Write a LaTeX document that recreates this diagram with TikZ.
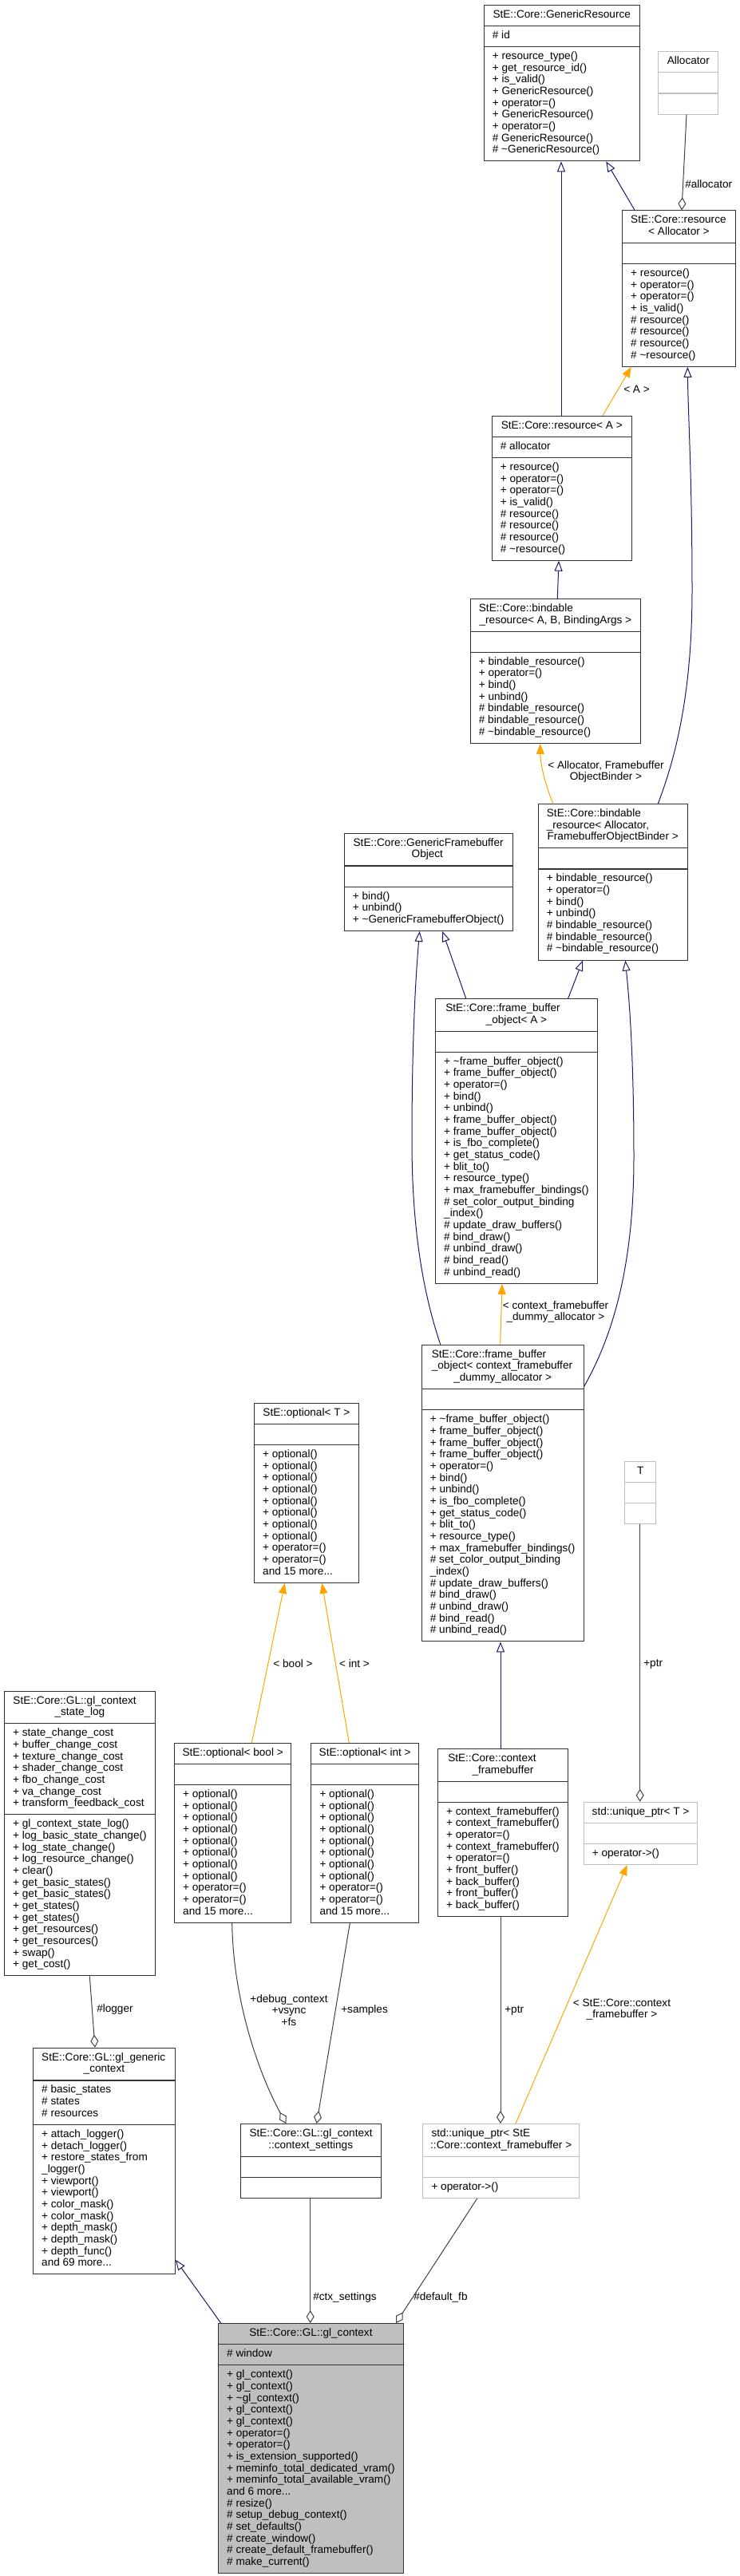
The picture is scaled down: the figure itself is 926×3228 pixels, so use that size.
\documentclass[tikz,border=0pt]{standalone}
\usepackage{fontspec}
\setmainfont{Liberation Sans}
\usepackage{array}
\usetikzlibrary{shapes.multipart,arrows.meta}
\definecolor{inhblue}{HTML}{191970}
\definecolor{tmplorange}{HTML}{FFA500}
\definecolor{usegrey}{HTML}{404040}
\definecolor{boxgrey}{HTML}{BFBFBF}
\newcommand{\umlfont}{\fontsize{10.2}{11}\selectfont}
\newcommand{\members}[1]{\begin{tabular}{@{}l@{}}#1\end{tabular}}
\newcommand{\nomembers}{\members{\strut}}
\newcommand{\centred}[2]{\makebox[#1]{#2}}
\begin{document}
\begin{tikzpicture}[
        x=0.75pt, y=-0.75pt,
        font=\umlfont
    ]
    \tikzset{
        classbox/.style = {rectangle split, rectangle split parts=3, rectangle split part align={center,left,left},
            draw=black!80, fill=white, line width=0.8pt, inner xsep=8pt, inner ysep=3.875pt, anchor=north west},
        greybox/.style = {classbox, draw=boxgrey},
        inherit/.style = {draw=inhblue, line width=0.75pt, -{Triangle[open, length=9.75pt, width=7.5pt]}},
        tmpl/.style = {draw=tmplorange, line width=0.75pt, -{Triangle[length=9.75pt, width=7.5pt]}},
        usage/.style = {draw=usegrey, line width=0.75pt, -{Diamond[open, length=12pt, width=7.5pt]}},
        lbl/.style = {inner sep=0pt},
    }
    \useasboundingbox (0,0) rectangle (926,3228);
    \node[classbox] (gr) at (605.7,5.7) {\members{\centred{130.25pt}{StE::Core::GenericResource}}
        \nodepart{two}\members{\# id}
        \nodepart{three}\members{+ resource\_type()\\+ get\_resource\_id()\\+ is\_valid()\\+ GenericResource()\\+ operator=()\\+ GenericResource()\\+ operator=()\\\# GenericResource()\\\# \textasciitilde GenericResource()}};
    \node[greybox] (alloc) at (824.3,64.3) {\members{\centred{40.25pt}{Allocator}}
        \nodepart{two}\nomembers
        \nodepart{three}\nomembers};
    \node[classbox] (resalloc) at (779,263.3) {\members{StE::Core::resource\\\centred{90.3pt}{< Allocator >}}
        \nodepart{two}\nomembers
        \nodepart{three}\members{+ resource()\\+ operator=()\\+ operator=()\\+ is\_valid()\\\# resource()\\\# resource()\\\# resource()\\\# \textasciitilde resource()}};
    \node[classbox] (resA) at (615.7,520.7) {\members{\centred{115.25pt}{StE::Core::resource< A >}}
        \nodepart{two}\members{\# allocator}
        \nodepart{three}\members{+ resource()\\+ operator=()\\+ operator=()\\+ is\_valid()\\\# resource()\\\# resource()\\\# resource()\\\# \textasciitilde resource()}};
    \node[classbox] (bindA) at (588.7,750) {\members{StE::Core::bindable\\\centred{144pt}{\_resource< A, B, BindingArgs >}}
        \nodepart{two}\nomembers
        \nodepart{three}\members{+ bindable\_resource()\\+ operator=()\\+ bind()\\+ unbind()\\\# bindable\_resource()\\\# bindable\_resource()\\\# \textasciitilde bindable\_resource()}};
    \node[classbox] (bindfbo) at (673.7,1007) {\members{StE::Core::bindable\\\_resource< Allocator,\\\centred{124.25pt}{FramebufferObjectBinder >}}
        \nodepart{two}\nomembers
        \nodepart{three}\members{+ bindable\_resource()\\+ operator=()\\+ bind()\\+ unbind()\\\# bindable\_resource()\\\# bindable\_resource()\\\# \textasciitilde bindable\_resource()}};
    \node[classbox] (gfbo) at (430.7,1043.7) {\members{StE::Core::GenericFramebuffer\\\centred{139pt}{Object}}
        \nodepart{two}\nomembers
        \nodepart{three}\members{+ bind()\\+ unbind()\\+ \textasciitilde GenericFramebufferObject()}};
    \node[classbox] (fboA) at (545,1251) {\members{StE::Core::frame\_buffer\\\centred{133pt}{\_object< A >}}
        \nodepart{two}\nomembers
        \nodepart{three}\members{+ \textasciitilde frame\_buffer\_object()\\+ frame\_buffer\_object()\\+ operator=()\\+ bind()\\+ unbind()\\+ frame\_buffer\_object()\\+ frame\_buffer\_object()\\+ is\_fbo\_complete()\\+ get\_status\_code()\\+ blit\_to()\\+ resource\_type()\\+ max\_framebuffer\_bindings()\\\# set\_color\_output\_binding\\\_index()\\\# update\_draw\_buffers()\\\# bind\_draw()\\\# unbind\_draw()\\\# bind\_read()\\\# unbind\_read()}};
    \node[classbox] (fboctx) at (527.7,1684.7) {\members{StE::Core::frame\_buffer\\\_object< context\_framebuffer\\\centred{133.25pt}{\_dummy\_allocator >}}
        \nodepart{two}\nomembers
        \nodepart{three}\members{+ \textasciitilde frame\_buffer\_object()\\+ frame\_buffer\_object()\\+ frame\_buffer\_object()\\+ frame\_buffer\_object()\\+ operator=()\\+ bind()\\+ unbind()\\+ is\_fbo\_complete()\\+ get\_status\_code()\\+ blit\_to()\\+ resource\_type()\\+ max\_framebuffer\_bindings()\\\# set\_color\_output\_binding\\\_index()\\\# update\_draw\_buffers()\\\# bind\_draw()\\\# unbind\_draw()\\\# bind\_read()\\\# unbind\_read()}};
    \node[greybox] (tbox) at (782.3,1831) {\members{\centred{13.25pt}{T}}
        \nodepart{two}\nomembers
        \nodepart{three}\nomembers};
    \node[classbox] (optT) at (318,1758) {\members{\centred{82pt}{StE::optional< T >}}
        \nodepart{two}\nomembers
        \nodepart{three}\members{+ optional()\\+ optional()\\+ optional()\\+ optional()\\+ optional()\\+ optional()\\+ optional()\\+ optional()\\+ operator=()\\+ operator=()\\and 15 more...}};
    \node[classbox] (slog) at (5,2118.5) {\members{StE::Core::GL::gl\_context\\\centred{125.2pt}{\_state\_log}}
        \nodepart{two}\members{+ state\_change\_cost\\+ buffer\_change\_cost\\+ texture\_change\_cost\\+ shader\_change\_cost\\+ fbo\_change\_cost\\+ va\_change\_cost\\+ transform\_feedback\_cost}
        \nodepart{three}\members{+ gl\_context\_state\_log()\\+ log\_basic\_state\_change()\\+ log\_state\_change()\\+ log\_resource\_change()\\+ clear()\\+ get\_basic\_states()\\+ get\_basic\_states()\\+ get\_states()\\+ get\_states()\\+ get\_resources()\\+ get\_resources()\\+ swap()\\+ get\_cost()}};
    \node[classbox] (optB) at (218,2184) {\members{\centred{93.7pt}{StE::optional< bool >}}
        \nodepart{two}\nomembers
        \nodepart{three}\members{+ optional()\\+ optional()\\+ optional()\\+ optional()\\+ optional()\\+ optional()\\+ optional()\\+ optional()\\+ operator=()\\+ operator=()\\and 15 more...}};
    \node[classbox] (optI) at (389.3,2184) {\members{\centred{85pt}{StE::optional< int >}}
        \nodepart{two}\nomembers
        \nodepart{three}\members{+ optional()\\+ optional()\\+ optional()\\+ optional()\\+ optional()\\+ optional()\\+ optional()\\+ optional()\\+ operator=()\\+ operator=()\\and 15 more...}};
    \node[classbox] (ctxfb) at (548,2191) {\members{StE::Core::context\\\centred{103pt}{\_framebuffer}}
        \nodepart{two}\nomembers
        \nodepart{three}\members{+ context\_framebuffer()\\+ context\_framebuffer()\\+ operator=()\\+ context\_framebuffer()\\+ operator=()\\+ front\_buffer()\\+ back\_buffer()\\+ front\_buffer()\\+ back\_buffer()}};
    \node[greybox] (uptrT) at (730.7,2257.7) {\members{\centred{91pt}{std::unique\_ptr< T >}}
        \nodepart{two}\nomembers
        \nodepart{three}\members{+ operator->()}};
    \node[classbox] (ggc) at (41,2565.7) {\members{StE::Core::GL::gl\_generic\\\centred{117.3pt}{\_context}}
        \nodepart{two}\members{\# basic\_states\\\# states\\\# resources}
        \nodepart{three}\members{+ attach\_logger()\\+ detach\_logger()\\+ restore\_states\_from\\\_logger()\\+ viewport()\\+ viewport()\\+ color\_mask()\\+ color\_mask()\\+ depth\_mask()\\+ depth\_mask()\\+ depth\_func()\\and 69 more...}};
    \node[classbox] (ctxset) at (301.3,2661) {\members{StE::Core::GL::gl\_context\\\centred{115pt}{::context\_settings}}
        \nodepart{two}\nomembers
        \nodepart{three}\nomembers};
    \node[greybox] (uptrS) at (529.3,2661) {\members{std::unique\_ptr< StE\\\centred{130.8pt}{::Core::context\_framebuffer >}}
        \nodepart{two}\nomembers
        \nodepart{three}\members{+ operator->()}};
    \node[classbox, fill=boxgrey] (glc) at (273,2911) {\members{\centred{157.25pt}{StE::Core::GL::gl\_context}}
        \nodepart{two}\members{\# window}
        \nodepart{three}\members{+ gl\_context()\\+ gl\_context()\\+ \textasciitilde gl\_context()\\+ gl\_context()\\+ gl\_context()\\+ operator=()\\+ operator=()\\+ is\_extension\_supported()\\+ meminfo\_total\_dedicated\_vram()\\+ meminfo\_total\_available\_vram()\\and 6 more...\\\# resize()\\\# setup\_debug\_context()\\\# set\_defaults()\\\# create\_window()\\\# create\_default\_framebuffer()\\\# make\_current()}};
    \draw[inherit] (resalloc.north -| 795,0) -- (gr.south -| 759.3,0);
    \draw[inherit] (resA.north -| 703,0) -- (gr.south -| 703,0);
    \draw[usage] (alloc.south -| 860,0) -- (resalloc.north -| 854,0);
    \draw[tmpl] (resA.north -| 755,0) -- (resalloc.south -| 790.7,0);
    \draw[inherit] (bindA.north -| 698.3,0) -- (resA.south -| 700,0);
    \draw[tmpl] (bindfbo.north -| 692.7,0) .. controls (684,985) and (677,960) .. (bindA.south -| 676.7,0);
    \draw[inherit] (bindfbo.north -| 824.3,0) .. controls (846,950) and (867,870) .. (867,740) .. controls (867,600) and (862,520) .. (resalloc.south -| 861.3,0);
    \draw[inherit] (fboA.north -| 583.7,0) -- (gfbo.south -| 554.3,0);
    \draw[inherit] (fboA.north -| 711.7,0) -- (bindfbo.south -| 730,0);
    \draw[inherit] (fboctx.north -| 551.7,0) .. controls (530,1620) and (516,1540) .. (516,1430) .. controls (516,1300) and (521,1220) .. (gfbo.south -| 525.7,0);
    \draw[inherit] (fboctx.east |- 0,1737.3) .. controls (770,1670) and (794,1580) .. (794,1450) .. controls (794,1320) and (788,1250) .. (bindfbo.south -| 783.3,0);
    \draw[tmpl] (fboctx.north -| 626.7,0) -- (fboA.south -| 629,0);
    \draw[inherit] (ctxfb.north -| 627,0) -- (fboctx.south -| 627,0);
    \draw[usage] (tbox.south -| 801.7,0) -- (uptrT.north -| 801.7,0);
    \draw[tmpl] (optB.north -| 315.3,0) -- (optT.south -| 356.7,0);
    \draw[tmpl] (optI.north -| 437.3,0) -- (optT.south -| 403.3,0);
    \draw[usage] (optB.south -| 290.7,0) .. controls (292,2500) and (320,2590) .. (ctxset.north -| 358.3,0);
    \draw[usage] (optI.south -| 438.3,0) -- (ctxset.north -| 396.7,0);
    \draw[usage] (ctxfb.south -| 627,0) -- (uptrS.north -| 627,0);
    \draw[tmpl] (uptrS.north -| 646,0) -- (uptrT.south -| 785.7,0);
    \draw[usage] (slog.south -| 112.3,0) -- (ggc.north -| 119,0);
    \draw[inherit] (glc.north -| 276.7,0) -- (ggc.east |- 0,2831.7);
    \draw[usage] (ctxset.south -| 388.7,0) -- (glc.north -| 388.7,0);
    \draw[usage] (uptrS.south -| 597.7,0) -- (glc.north -| 496,0);
    \node[lbl, anchor=west] (lalloc) at (858,231) {\#allocator};
    \node[lbl] (la) at (797.5,488) {< A >};
    \node[lbl, align=center] (lbind) at (759,967) {< Allocator, Framebuffer\\ObjectBinder >};
    \node[lbl, align=center] (ldummy) at (696,1644) {< context\_framebuffer\\\_dummy\_allocator >};
    \node[lbl, anchor=west] (lptrT) at (806,2085) {+ptr};
    \node[lbl] (lbool) at (367,2085) {< bool >};
    \node[lbl] (lint) at (444,2085) {< int >};
    \node[lbl, align=center] (lopts) at (362,2519) {+debug\_context\\+vsync\\+fs};
    \node[lbl, anchor=west] (lsamples) at (427,2519) {+samples};
    \node[lbl, anchor=west] (lptrS) at (632,2519) {+ptr};
    \node[lbl, align=center] (lctxfb) at (779,2518) {< StE::Core::context\\\_framebuffer >};
    \node[lbl, anchor=west] (llogger) at (121,2518) {\#logger};
    \node[lbl, anchor=west] (lctxset) at (392,2879) {\#ctx\_settings};
    \node[lbl, anchor=west] (ldfb) at (518,2879) {\#default\_fb};
\end{tikzpicture}
\end{document}
